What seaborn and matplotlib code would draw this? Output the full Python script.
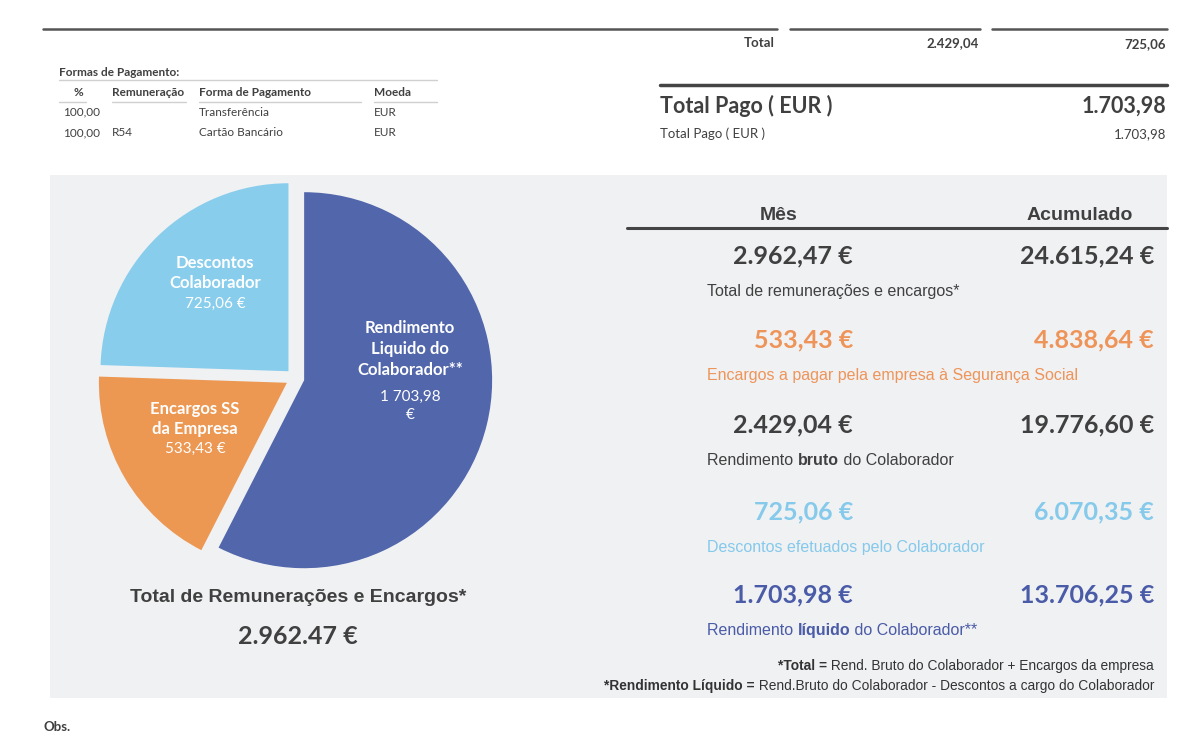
import matplotlib
matplotlib.use("Agg")
import matplotlib.pyplot as plt
from matplotlib.patches import Rectangle
import seaborn as sns

sns.set_theme(style="white")
plt.rcParams["font.family"] = ["Lato", "DejaVu Sans"]

# ---- data ----
pie_labels = ["Rendimento\nLiquido do\nColaborador**", "Encargos SS\nda Empresa", "Descontos\nColaborador"]
pie_values = [1703.98, 533.43, 725.06]
pie_value_labels = ["1 703,98\n€", "533,43 €", "725,06 €"]
pie_colors = sns.color_palette(["#5166AB", "#EC9853", "#88CDEC"])

pay_pct = ["100,00", "100,00"]
pay_rem = ["", "R54"]
pay_forma = ["Transferência", "Cartão Bancário"]
pay_moeda = ["EUR", "EUR"]

top_total_label = "Total"
top_totals = ["2.429,04", "725,06"]
total_pago = "1.703,98"

mes_values = ["2.962,47 €", "533,43 €", "2.429,04 €", "725,06 €", "1.703,98 €"]
acum_values = ["24.615,24 €", "4.838,64 €", "19.776,60 €", "6.070,35 €", "13.706,25 €"]
row_desc = [("Total de remunerações e encargos*", "", ""),
            ("Encargos a pagar pela empresa à Segurança Social", "", ""),
            ("Rendimento ", "bruto", " do Colaborador"),
            ("Descontos efetuados pelo Colaborador", "", ""),
            ("Rendimento ", "líquido", " do Colaborador**")]
row_colors = ["#404040", "#EE9459", "#404040", "#85C9EB", "#4A5BA7"]

total_enc_title = "Total de Remunerações e Encargos*"
total_enc_value = "2.962.47 €"

notes = [("*Total =", " Rend. Bruto do Colaborador + Encargos da empresa"),
         ("*Rendimento Líquido =", " Rend.Bruto do Colaborador - Descontos a cargo do Colaborador")]

DARK = "#404040"
ARIAL = ["Liberation Sans", "DejaVu Sans"]

W, H = 1200, 755
fig = plt.figure(figsize=(W / 100, H / 100), dpi=100)
fig.patch.set_facecolor("white")

# background axes in pixel coordinates
ax = fig.add_axes([0, 0, 1, 1], zorder=0)
ax.set_xlim(0, W)
ax.set_ylim(H, 0)
ax.set_axis_off()

# top lines and totals
ax.plot([43, 777], [29, 29], color="#555555", lw=1.8)
ax.plot([790, 980], [29, 29], color="#555555", lw=1.8)
ax.plot([992, 1167], [29, 29], color="#555555", lw=1.8)
ax.text(775, 43, top_total_label, ha="right", va="center", fontsize=9.5, fontweight="bold", color=DARK)
ax.text(979, 43, top_totals[0], ha="right", va="center", fontsize=9.5, fontweight="bold", color=DARK)
ax.text(1166, 44, top_totals[1], ha="right", va="center", fontsize=9.5, fontweight="bold", color=DARK)

# formas de pagamento table
fs_tab = 8.5
ax.text(59, 72, "Formas de Pagamento:", ha="left", va="center", fontsize=fs_tab, fontweight="bold", color=DARK)
ax.plot([59, 437], [80, 80], color="#d0d0d0", lw=1)
hdr_y = 93
ax.text(78, hdr_y, "%", ha="center", va="center", fontsize=fs_tab, fontweight="bold", color=DARK)
ax.text(112, hdr_y, "Remuneração", ha="left", va="center", fontsize=fs_tab, fontweight="bold", color=DARK)
ax.text(199, hdr_y, "Forma de Pagamento", ha="left", va="center", fontsize=fs_tab, fontweight="bold", color=DARK)
ax.text(374, hdr_y, "Moeda", ha="left", va="center", fontsize=fs_tab, fontweight="bold", color=DARK)
for x0, x1 in [(59, 86), (112, 186), (199, 361), (374, 437)]:
    ax.plot([x0, x1], [102, 102], color="#d0d0d0", lw=1)
for i in range(len(pay_pct)):
    y = 112 + i * 21
    ax.text(63, y, pay_pct[i], ha="left", va="center", fontsize=fs_tab, color=DARK)
    ax.text(112, y, pay_rem[i], ha="left", va="center", fontsize=fs_tab, color=DARK)
    ax.text(199, y, pay_forma[i], ha="left", va="center", fontsize=fs_tab, color=DARK)
    ax.text(374, y, pay_moeda[i], ha="left", va="center", fontsize=fs_tab, color=DARK)

# total pago
ax.plot([660, 1167], [85, 85], color="#444444", lw=2.5)
ax.text(660, 106, "Total Pago ( EUR )", ha="left", va="center", fontsize=15.5, fontweight="bold", color=DARK)
ax.text(1166, 106, total_pago, ha="right", va="center", fontsize=15.5, fontweight="bold", color=DARK)
ax.text(660, 134, "Total Pago ( EUR )", ha="left", va="center", fontsize=9.5, color=DARK)
ax.text(1166, 134, total_pago, ha="right", va="center", fontsize=9.5, color=DARK)

# grey panel
ax.add_patch(Rectangle((50, 175), 1117, 523, facecolor="#F0F1F3", edgecolor="none"))

ax.text(43, 727, "Obs.", ha="left", va="center", fontsize=9.5, fontweight="bold", color=DARK)

# pie
cx, cy, R = 295, 378, 188
lim = 1.25
side = 2 * lim * R
ax_pie = fig.add_axes([(cx - side / 2) / W, (H - cy - side / 2) / H, side / W, side / H], zorder=1)
ax_pie.pie(pie_values, colors=pie_colors, startangle=90, counterclock=False,
           explode=[0.05, 0.05, 0.05], radius=1, wedgeprops=dict(linewidth=0))
ax_pie.set_xlim(-lim, lim)
ax_pie.set_ylim(-lim, lim)
ax_pie.set_aspect("equal")
ax_pie.set_axis_off()

# overlay for labels
ov = fig.add_axes([0, 0, 1, 1], zorder=2)
ov.set_xlim(0, W)
ov.set_ylim(H, 0)
ov.set_axis_off()
ov.patch.set_alpha(0)

label_pos = [(410, 349, 406), (195, 419, 449), (215, 273, 304)]
for lab, val, (lx, ly, vy) in zip(pie_labels, pie_value_labels, label_pos):
    ov.text(lx, ly, lab, ha="center", va="center", fontsize=12, fontweight="bold",
            color="white", linespacing=1.35)
    ov.text(lx, vy, val, ha="center", va="center", fontsize=11, color="white", linespacing=1.35)

ov.text(298, 598, total_enc_title, ha="center", va="center", fontsize=14, fontweight="bold",
        color=DARK, family=ARIAL)
ov.text(298, 636, total_enc_value, ha="center", va="center", fontsize=18, fontweight="bold", color=DARK)

# right summary
ov.text(779, 215, "Mês", ha="center", va="center", fontsize=14, fontweight="bold", color=DARK, family=ARIAL)
ov.text(1080, 215, "Acumulado", ha="center", va="center", fontsize=14, fontweight="bold", color=DARK, family=ARIAL)
ov.plot([627, 1167], [228, 228], color="#444444", lw=2.2)

row_y = [256, 340, 425, 512, 595]
for i in range(len(mes_values)):
    y = row_y[i]
    c = row_colors[i]
    ov.text(853, y, mes_values[i], ha="right", va="center", fontsize=18, fontweight="bold", color=c)
    ov.text(1154, y, acum_values[i], ha="right", va="center", fontsize=18, fontweight="bold", color=c)
    pre, bold, post = row_desc[i]
    t = ov.text(707, y + 40, pre, ha="left", va="baseline", fontsize=11.5, color=c, family=ARIAL)
    if bold:
        t = ov.annotate(bold, xy=(1, 0), xycoords=t, ha="left", va="bottom", fontsize=11.5,
                        fontweight="bold", color=c, family=ARIAL)
        ov.annotate(post, xy=(1, 0), xycoords=t, ha="left", va="bottom", fontsize=11.5,
                    color=c, family=ARIAL)

for i, (b, r) in enumerate(notes):
    y = 670 + i * 20
    t = ov.text(1154, y, r, ha="right", va="baseline", fontsize=9.9, color="#333333", family=ARIAL)
    ov.annotate(b, xy=(0, 0), xycoords=t, ha="right", va="bottom", fontsize=9.9,
                fontweight="bold", color="#333333", family=ARIAL)

fig.savefig("out.png", dpi=100)
